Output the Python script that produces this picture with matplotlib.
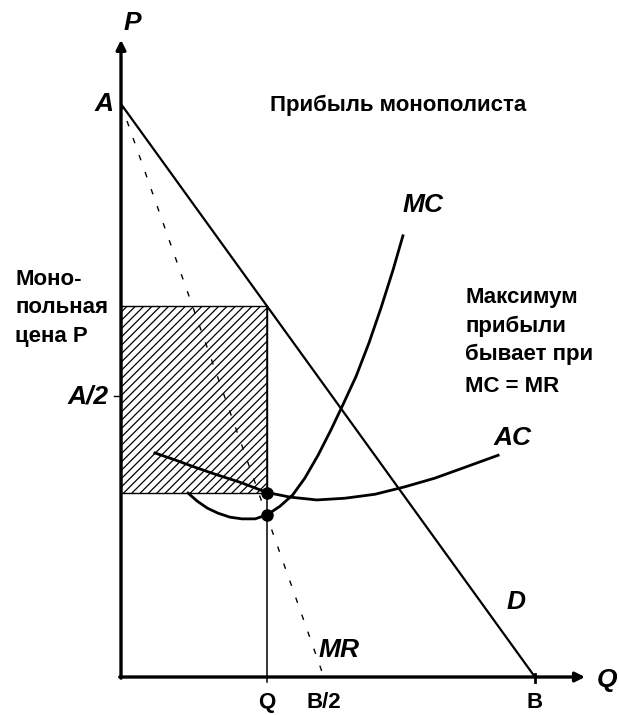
import matplotlib
matplotlib.use("Agg")
import matplotlib.pyplot as plt
from matplotlib.patches import Rectangle

plt.rcParams['font.family'] = ['Liberation Sans', 'DejaVu Sans']
plt.rcParams['hatch.linewidth'] = 0.9

# values (A = B = 10)
A = 10.0
B = 10.0
Q = 3.53
MR_END = 4.9          # where MR meets the Q axis (B/2)
A_HALF = 4.9          # A/2 tick
P_MONO = A - Q        # price on D at Q

mc_q = [1.62, 1.84, 2.08, 2.34, 2.63, 2.92, 3.24, 3.53, 3.84, 4.15, 4.44, 4.76,
        5.07, 5.36, 5.68, 5.99, 6.28, 6.57, 6.81]
mc_p = [3.21, 3.07, 2.95, 2.86, 2.79, 2.76, 2.76, 2.83, 2.98, 3.18, 3.47, 3.87,
        4.31, 4.75, 5.25, 5.83, 6.44, 7.10, 7.70]

ac_q = [0.82, 1.30, 1.79, 2.27, 2.87, 3.53, 4.08, 4.73, 5.41, 6.14, 6.86, 7.58, 8.31, 9.11]
ac_p = [3.91, 3.79, 3.66, 3.54, 3.40, 3.22, 3.14, 3.09, 3.12, 3.19, 3.32, 3.47, 3.66, 3.87]

AC_Q = 3.22
MC_Q = 2.83

xticks = [Q, MR_END, B]
xtick_labels = ['Q', 'B/2', 'B']

fig = plt.figure(figsize=(6.19, 7.15), dpi=100)
ax = fig.add_axes([0, 0, 1, 1])
ax.set_xlim(-2.923, 12.03)
ax.set_ylim(-0.663, 11.815)
ax.axis('off')

# profit rectangle
ax.add_patch(Rectangle((0, AC_Q), Q, P_MONO - AC_Q, facecolor='white',
                       edgecolor='black', hatch='////', lw=1.0, zorder=1))

# axes with arrows
arrow = dict(arrowstyle='-|>', lw=2.4, color='black', mutation_scale=14,
             shrinkA=0, shrinkB=0)
ax.annotate('', xy=(0, 11.12), xytext=(0, -0.02), arrowprops=arrow)
ax.annotate('', xy=(11.21, 0), xytext=(-0.03, 0), arrowprops=arrow)

# demand and marginal revenue
ax.plot([0, B], [A, 0], color='black', lw=1.6, zorder=3)
ax.plot([0, MR_END], [A, 0], color='black', lw=1.0, dashes=(4, 9), zorder=3)

# cost curves
ax.plot(mc_q, mc_p, color='black', lw=2.0, zorder=4, solid_joinstyle='round')
ax.plot(ac_q, ac_p, color='black', lw=2.0, zorder=4, solid_joinstyle='round')

# Q line and ticks
ax.plot([Q, Q], [-0.08, P_MONO], color='black', lw=1.1, zorder=3)
ax.plot([B, B], [-0.09, 0.06], color='black', lw=2.0)
ax.plot([-0.18, 0], [A_HALF, A_HALF], color='black', lw=1.0)

ax.plot([Q, Q], [AC_Q, MC_Q], 'o', color='black', ms=8, zorder=5)

# labels
lab = dict(fontsize=19, fontweight='bold', fontstyle='italic')
txt = dict(fontsize=16, fontweight='bold')
ax.text(0.27, 11.41, 'P', ha='center', va='center', **lab)
ax.text(-0.19, 10.0, 'A', ha='right', va='center', **lab)
ax.text(-0.31, A_HALF, 'A/2', ha='right', va='center', **lab)
ax.text(6.79, 8.24, 'MC', ha='left', va='center', **lab)
ax.text(8.99, 4.17, 'AC', ha='left', va='center', **lab)
ax.text(9.32, 1.31, 'D', ha='left', va='center', **lab)
ax.text(4.76, 0.47, 'MR', ha='left', va='center', **lab)
ax.text(11.74, -0.05, 'Q', ha='center', va='center', **lab)

for x, t in zip(xticks, xtick_labels):
    ax.text(x, -0.45, t, ha='center', va='center', **txt)

ax.text(3.60, 9.98, 'Прибыль монополиста', ha='left', va='center', **txt)
for y, t in zip([6.84, 6.35, 5.85], ['Моно-', 'польная', 'цена P']):
    ax.text(-2.56, y, t, ha='left', va='baseline', **txt)
for y, t in zip([6.53, 6.02, 5.53, 4.97], ['Максимум', 'прибыли', 'бывает при', 'MC = MR']):
    ax.text(8.31, y, t, ha='left', va='baseline', **txt)

fig.savefig('out.png', dpi=100)
